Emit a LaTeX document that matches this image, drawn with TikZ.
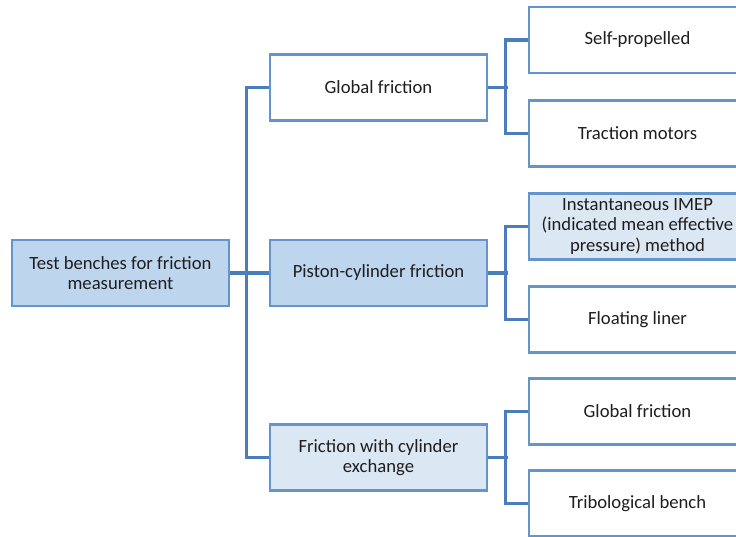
\documentclass[tikz,border=0pt]{standalone}
\usepackage{fontspec}
\setmainfont{Carlito}
\definecolor{boxline}{HTML}{6394CC}
\definecolor{conn}{HTML}{4A7EBB}
\definecolor{fillA}{HTML}{BDD6EE}
\definecolor{fillB}{HTML}{DCE7F4}
\definecolor{txt}{HTML}{1E1E1E}
\begin{document}
\begin{tikzpicture}[x=0.75pt,y=-0.75pt,
  box/.style={draw=boxline,line width=1.6pt,minimum width=162.75pt,minimum height=49.5pt,
    inner sep=0pt,align=center,text=txt,font=\fontsize{14}{15.3}\selectfont},
  link/.style={draw=conn,line width=2.3pt}]
\useasboundingbox (0,0) rectangle (736,536);
\begin{scope}
\clip (0,0) rectangle (736,536);
\node[box,fill=fillA] (root) at (120.5,273) {Test benches for friction\\measurement};
\node[box,fill=white] (gf) at (378.5,87.5) {Global friction};
\node[box,fill=fillA] (pc) at (378.5,273) {Piston-cylinder friction};
\node[box,fill=fillB] (fce) at (378.5,457.5) {Friction with cylinder\\exchange};
\node[box,fill=white] (sp) at (637.5,40) {Self-propelled};
\node[box,fill=white] (tm) at (637.5,133.5) {Traction motors};
\node[box,fill=fillB] (ii) at (637.5,226.5) {Instantaneous IMEP\\(indicated mean effective\\pressure) method};
\node[box,fill=white] (fl) at (637.5,319.5) {Floating liner};
\node[box,fill=white] (gf2) at (637.5,411.5) {Global friction};
\node[box,fill=white] (tb) at (637.5,503.5) {Tribological bench};
\path[link] (root.east) -- (pc.west);
\path[link] (gf.west) -- ++(-22,0) |- (fce.west);
\path[link] (gf.east) -- ++(20,0);
\path[link] (sp.west) -- ++(-22,0) |- (tm.west);
\path[link] (pc.east) -- ++(20,0);
\path[link] (ii.west) -- ++(-22,0) |- (fl.west);
\path[link] (fce.east) -- ++(20,0);
\path[link] (gf2.west) -- ++(-22,0) |- (tb.west);
% redraw boxes over connector ends
\node[box,fill=fillA] at (root) {Test benches for friction\\measurement};
\node[box,fill=white] at (gf) {Global friction};
\node[box,fill=fillA] at (pc) {Piston-cylinder friction};
\node[box,fill=fillB] at (fce) {Friction with cylinder\\exchange};
\node[box,fill=white] at (sp) {Self-propelled};
\node[box,fill=white] at (tm) {Traction motors};
\node[box,fill=fillB] at (ii) {Instantaneous IMEP\\(indicated mean effective\\pressure) method};
\node[box,fill=white] at (fl) {Floating liner};
\node[box,fill=white] at (gf2) {Global friction};
\node[box,fill=white] at (tb) {Tribological bench};
\end{scope}
\end{tikzpicture}
\end{document}
